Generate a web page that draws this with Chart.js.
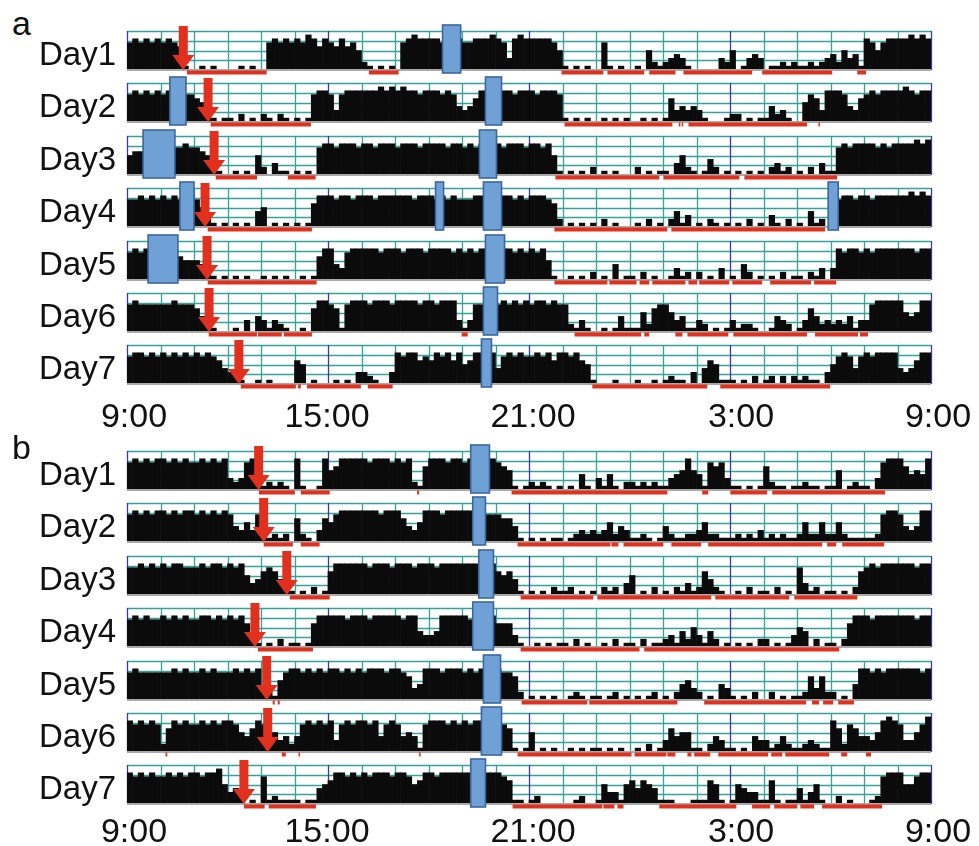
<!DOCTYPE html>
<html>
<head>
<meta charset="utf-8">
<script src="https://cdn.jsdelivr.net/npm/chart.js@4.4.1/dist/chart.umd.min.js"></script>
<style>
    body {
        margin: 0;
        width: 979px;
        height: 846px;
        overflow: hidden;
        position: relative;
        background: #fff;
        font-family: "Liberation Sans", Arial, sans-serif;
        color: #111;
    }
    canvas { position: absolute; left: 0; }
    .txt { position: absolute; line-height: 1; white-space: nowrap; }
    .day { font-size: 33px; width: 116px; left: 0; text-align: right; }
    .panel { font-size: 34px; left: 12px; }
    .tick { font-size: 34px; width: 120px; text-align: center; }
</style>
</head>
<body>
<script>
// activity, one digit per 10 min (0-9 = tenths of full scale), groups of one hour from 9:00
const activityA = [
    "787878 787610 010100 001010 078787 879868 768675 210101 078988 887788 778889 873898 888875 101010 071010 010521 234310 000032 501343 011212 112123 425341 875788 889898",
    "787878 787877 653101 102010 210210 101788 737888 888989 898878 887874 346888 888788 878887 101010 010101 001010 163434 310001 220101 142310 057638 887436 787888 898788",
    "566777 777787 765310 010105 203110 101078 878887 887888 788878 888788 787888 878887 887851 010102 010100 020101 103521 014201 010101 023120 102031 178788 887878 888989",
    "778787 878788 752101 010104 501010 101688 878878 887888 888788 878787 778888 888787 888762 010101 020100 010201 024130 102101 010201 031020 104120 678878 878888 889898",
    "787888 888655 542101 010100 101010 010168 843788 888788 878887 888878 787888 888787 878510 010102 010401 102010 013120 201030 104201 010201 102130 387887 878888 888788",
    "787777 778777 642100 010304 313210 010688 761788 878887 888878 878883 137788 787878 788787 721310 010141 115267 753411 320101 312210 014320 136423 232413 378888 854588",
    "788787 878787 878764 321001 010000 650100 010103 321003 878867 687868 568888 478787 787868 878651 000100 010010 121103 046511 101020 120202 121103 578747 878888 434688"
];
const activityB = [
    "787878 878787 787878 323786 121210 810018 568888 878887 878216 888788 788888 765101 212101 010410 314102 212121 134585 417673 110101 621101 121101 150121 103788 864548",
    "787878 878788 787878 743537 512120 621036 578888 888788 864358 887888 888877 766410 101011 012323 235243 112101 421122 352211 121213 121211 252252 252111 112788 743488",
    "778787 878877 787887 878534 676421 010201 688888 878887 888788 878888 888888 656410 101021 120101 021203 501020 102131 264210 010201 102010 731201 101026 787888 888788",
    "787877 878787 788787 878631 010201 101688 888788 878888 878843 348888 878888 666310 010101 102010 010201 102011 231425 314201 010102 201013 540201 102688 878888 888788",
    "787777 778787 787877 787878 321578 878787 887878 788878 876348 887888 787888 877620 101010 012101 101201 010120 102453 201043 101020 020101 126362 201048 878788 888878",
    "878787 268787 787878 875468 745342 478787 837878 878478 745417 888787 878888 876101 501010 010101 101010 010201 364551 102431 101043 312421 123211 862764 435898 733579",
    "878787 787878 878895 342010 712111 101145 688787 878887 887568 878888 888888 876110 120000 001200 153315 646541 110001 116510 154331 161011 413510 020100 012788 855788"
];

// sleep bouts (red), hours after 9:00
const sleepA = [
    [[1.79, 4.17], [7.22, 8.11], [12.97, 14.22], [14.34, 15.44], [15.59, 16.37], [16.61, 18.66], [18.96, 21.05], [21.8, 22.06]],
    [[2.5, 5.49], [13.06, 16.28], [16.47, 16.52], [16.56, 16.6], [16.76, 20.3], [20.64, 20.68]],
    [[2.65, 3.88], [4.8, 5.63], [12.79, 15.89], [16.01, 18.28], [18.43, 21.2]],
    [[2.41, 5.52], [12.76, 16.13], [16.25, 20.84]],
    [[2.41, 5.66], [12.76, 14.34], [14.4, 15.21], [15.3, 15.59], [15.68, 16.67], [16.76, 17.02], [17.08, 17.98], [18.07, 18.96], [19.2, 20.42], [20.51, 21.17]],
    [[2.44, 3.88], [3.91, 4.62], [4.68, 5.52], [9.99, 10.17], [13.36, 15.35], [15.44, 15.59], [16.37, 16.58], [16.73, 17.95], [18.1, 20.3], [20.54, 21.82], [21.88, 22.12]],
    [[3.4, 5.04], [5.1, 5.19], [5.37, 6.98], [7.19, 7.93], [13.89, 17.32], [17.71, 20.99]]
];
const sleepB = [
    [[3.94, 5.01], [5.19, 6.05], [8.66, 8.72], [11.48, 16.13], [17.17, 17.35], [18.01, 19.11], [19.26, 22.63]],
    [[4.08, 4.95], [5.19, 5.75], [11.66, 14.43], [14.46, 14.67], [14.82, 16.01], [16.25, 17.14], [17.35, 20.75], [20.9, 21.17], [21.35, 22.6]],
    [[4.86, 6.05], [11.75, 13.92], [14.04, 17.44], [17.56, 19.77], [19.92, 21.8]],
    [[3.91, 5.55], [11.75, 15.3], [15.44, 21.26]],
    [[4.35, 4.41], [4.5, 4.56], [11.78, 13.74], [13.8, 16.43], [17.23, 20.27], [20.45, 20.66], [20.78, 21.08], [21.23, 21.7]],
    [[1.15, 1.2], [4.62, 4.74], [5.12, 5.16], [8.72, 8.76], [11.66, 15.06], [15.15, 16.1], [16.13, 16.37], [16.73, 16.85], [16.93, 17.41], [17.65, 19.14], [19.23, 19.56], [19.65, 20.96], [21.32, 21.5], [22.06, 22.21]],
    [[3.49, 4.11], [4.23, 5.64], [11.51, 14.19], [14.22, 14.55], [14.64, 14.82], [15.89, 18.19], [18.66, 19.2], [19.32, 20.01], [20.1, 20.51], [20.75, 22.54]]
];

// blue boxes, hours after 9:00
const boxesA = [
    [[9.42, 9.96]],
    [[1.28, 1.76], [10.7, 11.18]],
    [[0.48, 1.43], [10.52, 11.03]],
    [[1.58, 2.0], [9.21, 9.45], [10.64, 11.18], [20.93, 21.23]],
    [[0.63, 1.52], [10.7, 11.27]],
    [[10.64, 11.06]],
    [[10.58, 10.88]]
];
const boxesB = [
    [[10.26, 10.82]], [[10.32, 10.7]], [[10.5, 10.94]], [[10.32, 10.94]],
    [[10.64, 11.15]], [[10.58, 11.18]], [[10.26, 10.7]]
];

// red arrows, hours after 9:00
const arrowsA = [1.68, 2.42, 2.6, 2.33, 2.39, 2.45, 3.34];
const arrowsB = [3.93, 4.08, 4.77, 3.82, 4.17, 4.2, 3.49];

const dayLabels = ["Day1", "Day2", "Day3", "Day4", "Day5", "Day6", "Day7"];
const timeLabels = ["9:00", "15:00", "21:00", "3:00", "9:00"];

const TEAL = "#35a39a";
const NAVY = "#3a3aa0";
const RED = "#e2301f";
const PLOT_LEFT = 127;
const PLOT_RIGHT = 931;
const ROW_H = 39;
const PAD = 10;

const actogram = {
    id: "actogram",
    beforeDatasetsDraw(chart, args, opts) {
        const { ctx, chartArea: a, scales: { x } } = chart;
        ctx.save();
        ctx.lineWidth = 1.3;
        ctx.strokeStyle = TEAL;
        for (let q = 0; q < 4; q++) {
            const py = Math.round(a.top + (a.bottom - a.top) * q / 4) + 0.5;
            ctx.beginPath();
            ctx.moveTo(a.left, py);
            ctx.lineTo(a.right, py);
            ctx.stroke();
        }
        for (let h = 0; h <= 24; h++) {
            const px = Math.round(x.getPixelForValue(h)) + 0.5;
            ctx.strokeStyle = h % 6 === 0 ? NAVY : TEAL;
            ctx.beginPath();
            ctx.moveTo(px, a.top);
            ctx.lineTo(px, a.bottom);
            ctx.stroke();
        }
        ctx.restore();
    },
    afterDatasetsDraw(chart, args, opts) {
        const { ctx, chartArea: a, scales: { x } } = chart;
        ctx.save();

        ctx.fillStyle = "#a9a9a9";
        ctx.fillRect(a.left, a.bottom - 1, a.right - a.left, 2);

        ctx.fillStyle = RED;
        opts.sleep.forEach(([s, e]) => {
            const x0 = x.getPixelForValue(s);
            const x1 = x.getPixelForValue(e);
            ctx.fillRect(x0, a.bottom + 0.5, Math.max(1.5, x1 - x0), 4);
        });

        opts.boxes.forEach(([s, e]) => {
            const x0 = x.getPixelForValue(s);
            const x1 = x.getPixelForValue(e);
            ctx.fillStyle = "#6fa1d7";
            ctx.strokeStyle = "#3b679c";
            ctx.lineWidth = 1.6;
            ctx.fillRect(x0, a.top - 6, x1 - x0, a.bottom - a.top + 9);
            ctx.strokeRect(x0, a.top - 6, x1 - x0, a.bottom - a.top + 9);
        });

        const ax = x.getPixelForValue(opts.arrow);
        const tip = a.bottom;
        const headTop = tip - 15;
        ctx.fillStyle = RED;
        ctx.beginPath();
        ctx.moveTo(ax - 4.5, a.top - 5);
        ctx.lineTo(ax + 4.5, a.top - 5);
        ctx.lineTo(ax + 4.5, headTop);
        ctx.lineTo(ax + 11, headTop);
        ctx.lineTo(ax, tip);
        ctx.lineTo(ax - 11, headTop);
        ctx.lineTo(ax - 4.5, headTop);
        ctx.closePath();
        ctx.fill();

        ctx.restore();
    }
};

function parseRow(s) {
    return s.replace(/\s+/g, "").split("").map(Number);
}

function addText(cls, text, left, top) {
    const el = document.createElement("div");
    el.className = "txt " + cls;
    el.textContent = text;
    if (left !== null) el.style.left = left + "px";
    el.style.top = top + "px";
    document.body.appendChild(el);
}

function drawRow(top, values, sleep, boxes, arrow) {
    const canvas = document.createElement("canvas");
    canvas.width = 979;
    canvas.height = ROW_H + PAD * 2;
    canvas.style.top = (top - PAD) + "px";
    document.body.appendChild(canvas);

    const pts = parseRow(values).map((v, i) => ({ x: (i + 0.5) / 6, y: v }));

    new Chart(canvas, {
        type: "bar",
        data: {
            datasets: [{
                data: pts,
                backgroundColor: "#0b0b0b",
                borderWidth: 0,
                barPercentage: 1,
                categoryPercentage: 1,
            }],
        },
        options: {
            responsive: false,
            animation: false,
            events: [],
            layout: {
                padding: { left: PLOT_LEFT, right: 979 - PLOT_RIGHT, top: PAD, bottom: PAD },
            },
            plugins: {
                legend: { display: false },
                tooltip: { enabled: false },
                actogram: { sleep, boxes, arrow },
            },
            scales: {
                x: { type: "linear", min: 0, max: 24, offset: false, display: false },
                y: { min: 0, max: 10, display: false },
            },
        },
        plugins: [actogram],
    });
}

function drawPanel(letter, letterTop, firstTop, activity, sleep, boxes, arrows, tickTop) {
    addText("panel", letter, 12, letterTop);
    activity.forEach((row, i) => {
        const top = Math.round(firstTop + i * 52.4);
        drawRow(top, row, sleep[i], boxes[i], arrows[i]);
        addText("day", dayLabels[i], null, top + 5.5);
    });
    const centers = [134, 327, 533, 741, 938];
    timeLabels.forEach((t, i) => addText("tick", t, centers[i] - 60, tickTop));
}

drawPanel("a", 6, 31, activityA, sleepA, boxesA, arrowsA, 398);
drawPanel("b", 430, 451, activityB, sleepB, boxesB, arrowsB, 813);
</script>
</body>
</html>
